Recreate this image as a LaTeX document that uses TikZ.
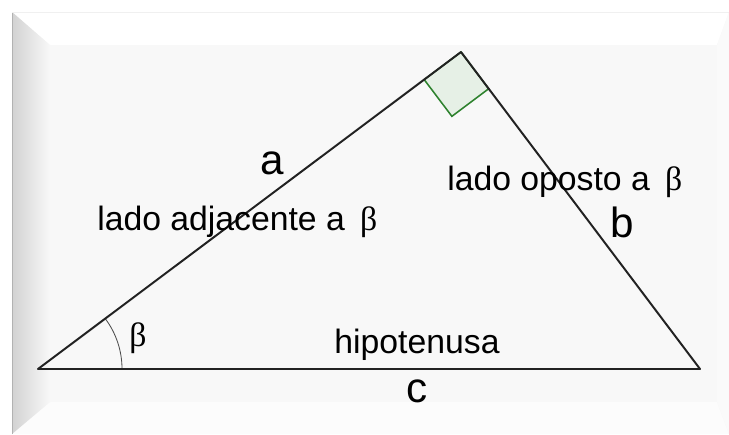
\documentclass[tikz,border=0pt]{standalone}
\usepackage{fontspec}
\setmainfont{Liberation Sans}
\newfontfamily\greekfont{Liberation Serif}
\usepackage{tikz}
\usetikzlibrary{calc, positioning}
\definecolor{sidegray}{RGB}{34,34,34}
\definecolor{rightgreen}{RGB}{46,130,46}
\definecolor{panelgray}{RGB}{248,248,248}

\newcommand{\bt}{{\greekfont β}}

\begin{document}
\begin{tikzpicture}[
    x=0.025cm, y=0.025cm,
    edge/.style={draw=sidegray, line width=1.4pt, line cap=round, line join=round},
    lbl/.style={inner sep=0pt, font=\fontsize{24}{28}\selectfont, text=black},
    letter/.style={inner sep=0pt, font=\fontsize{30}{34}\selectfont, text=black}
]
\useasboundingbox (0,0) rectangle (729,434);

% panel
\fill[white] (0,0) rectangle (729,434);
\fill[panelgray] (12,0) rectangle (729,422);
\fill[white] (12,422) -- (729,422) -- (717,389) -- (50,389) -- cycle;
\fill[gray!2] (12,0) -- (729,0) -- (717,32) -- (50,32) -- cycle;
\fill[gray!4] (729,0) -- (717,32) -- (717,389) -- (729,422) -- cycle;
\shade[left color=gray!35, right color=panelgray] (12,0) -- (50,32) -- (50,389) -- (12,422) -- cycle;
\draw[gray!60, line width=1.2pt] (12.5,0) -- (12.5,422);
\draw[gray!12, line width=0.6pt] (12,422) -- (729,422);

% triangle
\coordinate (B) at (38,65);
\coordinate (A) at (461,382);
\coordinate (C) at (700,65);

% right angle mark
\coordinate (sqB) at ($(A)!1.15cm!(B)$);
\coordinate (sqC) at ($(A)!1.15cm!(C)$);
\coordinate (sqD) at ($(sqB)+(sqC)-(A)$);
\filldraw[fill=rightgreen!12, draw=rightgreen, line width=1.1pt] (sqB) -- (sqD) -- (sqC) -- (A) -- cycle;

\draw[gray!60!black, line width=0.6pt] ($(B)+(2.1cm,0)$) arc[start angle=0, end angle=36.85, radius=2.1cm];

\draw[edge] (B) -- (A) -- (C) -- cycle;

% labels
\node[letter] (sa) at (272,271) {a};
\node[lbl, anchor=west] (adj) at (97,212) {lado adjacente a\hspace{0.45em}\bt};
\node[lbl, anchor=west] (opo) at (447,252) {lado oposto a\hspace{0.45em}\bt};
\node[letter] (sb) at (622,212) {b};
\node[lbl] (hip) at (417,89) {hipotenusa};
\node[letter, below=1.15cm of hip.center, anchor=center] (sc) {c};
\node[lbl] (ang) at (138,96) {\bt};

\end{tikzpicture}
\end{document}
